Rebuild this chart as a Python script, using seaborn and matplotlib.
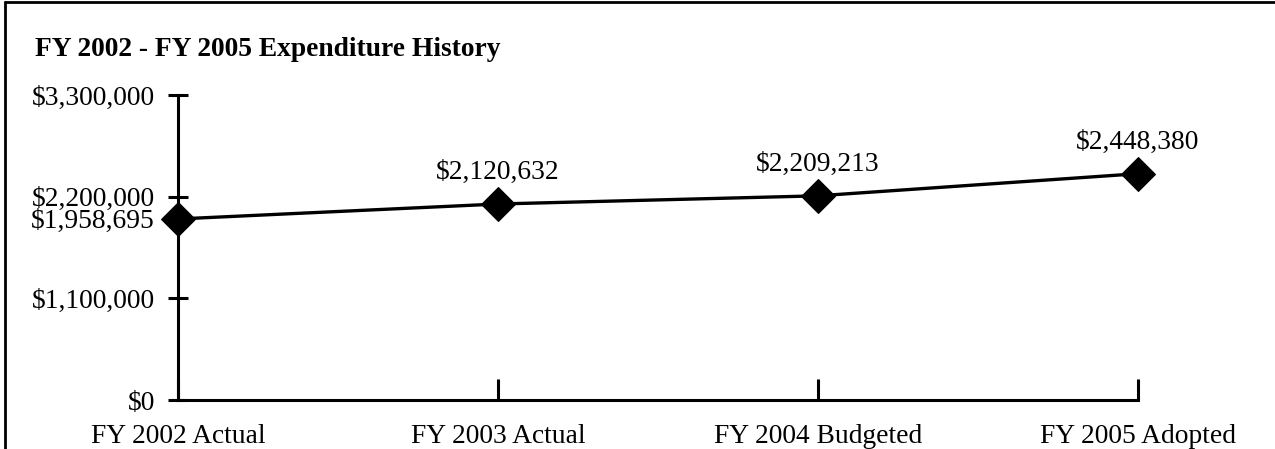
import matplotlib
matplotlib.use("Agg")
import matplotlib.pyplot as plt
import seaborn as sns
import pandas as pd
from matplotlib.lines import Line2D

categories = ["FY 2002 Actual", "FY 2003 Actual", "FY 2004 Budgeted", "FY 2005 Adopted"]
expenditures = [1958695, 2120632, 2209213, 2448380]
ytick_values = [0, 1100000, 2200000, 3300000]
ytick_labels = ["$0", "$1,100,000", "$2,200,000", "$3,300,000"]
title = "FY 2002 - FY 2005 Expenditure History"

sns.set_theme(style="white")
plt.rcParams["font.family"] = ["Liberation Serif", "DejaVu Serif"]

W, H = 1275, 449
fig = plt.figure(figsize=(W / 100, H / 100), dpi=100)
ax = fig.add_axes([178 / W, 49 / H, (1138 - 178) / W, (400 - 95) / H])

df = pd.DataFrame({"cat": categories, "val": expenditures})
sns.lineplot(data=df, x="cat", y="val", ax=ax, color="black", linewidth=2.4,
             marker="D", markersize=17.5, markeredgecolor="black",
             markerfacecolor="black", sort=False, clip_on=False)

ax.set_xlim(0, len(categories) - 1)
ax.set_ylim(ytick_values[0], ytick_values[-1])
ax.set_xticks(range(len(categories)))
ax.set_xticklabels(categories, fontsize=19.8)
ax.set_yticks(ytick_values)
ax.set_yticklabels(ytick_labels, fontsize=19.8)
ax.set_xlabel("")
ax.set_ylabel("")

for s in ["top", "right"]:
    ax.spines[s].set_visible(False)
for s in ["left", "bottom"]:
    ax.spines[s].set_color("black")
    ax.spines[s].set_linewidth(2.2)

ax.tick_params(axis="y", direction="inout", length=14, width=2.2, pad=9.5,
               colors="black", left=True)
ax.tick_params(axis="x", direction="in", length=15, width=2.2, pad=17,
               colors="black", bottom=True)
ax.grid(False)

for i, v in enumerate(expenditures):
    label = f"${v:,.0f}"
    if i == 0:
        ax.annotate(label, (i, v), xytext=(-16.5, -2), textcoords="offset points",
                    ha="right", va="center", fontsize=19.8, color="black")
    else:
        ax.annotate(label, (i, v), xytext=(0, 22.5), textcoords="offset points",
                    ha="center", va="center", fontsize=19.8, color="black")

fig.text(35 / W, 1 - 56 / H, title, fontsize=19.8, fontweight="bold",
         ha="left", va="baseline", color="black")

# frame: top and left border
fig.add_artist(Line2D([5 / W, 1.0], [1 - 2 / H, 1 - 2 / H], transform=fig.transFigure,
                      color="black", linewidth=2.0))
fig.add_artist(Line2D([5 / W, 5 / W], [0, 1 - 2 / H], transform=fig.transFigure,
                      color="black", linewidth=2.0))

fig.savefig("out.png", dpi=100, facecolor="white")
